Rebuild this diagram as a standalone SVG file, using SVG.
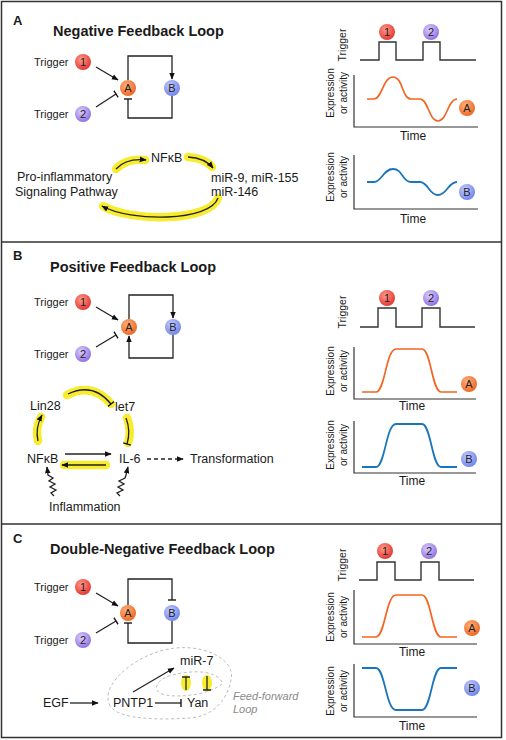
<svg xmlns="http://www.w3.org/2000/svg" width="506" height="740" viewBox="0 0 506 740">
<style>
text{font-family:"Liberation Sans",Arial,sans-serif;fill:#1a1a1a}
.panel{font-size:13px;font-weight:bold}
.title{font-size:14.5px;font-weight:bold}
.trg{font-size:11px}
.bio{font-size:12.5px}
.ax{font-size:10px}
.axt{font-size:10.5px}
.time{font-size:12px;text-anchor:middle}
.cl{font-size:11px;text-anchor:middle;fill:#222}
.ff{font-size:11px;font-style:italic;fill:#8a8a8a}
.ln{fill:none;stroke:#222;stroke-width:1.3}
.wave{fill:none;stroke:#333;stroke-width:1.4}
.axis{fill:none;stroke:#333;stroke-width:1.2}
.cA{fill:none;stroke:#f26522;stroke-width:1.7}
.cB{fill:none;stroke:#1b75bb;stroke-width:1.8}
.hl{fill:none;stroke:#f7ec2e;stroke-width:8.5;stroke-linecap:round}
.dash{fill:none;stroke:#bdbdbd;stroke-width:1;stroke-dasharray:3,2.5}
</style>
<defs>
<radialGradient id="gR" cx="0.4" cy="0.35" r="0.7"><stop offset="0" stop-color="#ff9b8c"/><stop offset="1" stop-color="#e1302a"/></radialGradient>
<radialGradient id="gO" cx="0.4" cy="0.35" r="0.7"><stop offset="0" stop-color="#ffb27c"/><stop offset="1" stop-color="#ec6320"/></radialGradient>
<radialGradient id="gP" cx="0.4" cy="0.35" r="0.7"><stop offset="0" stop-color="#dccfff"/><stop offset="1" stop-color="#8a6ade"/></radialGradient>
<radialGradient id="gB" cx="0.4" cy="0.35" r="0.7"><stop offset="0" stop-color="#c7cfff"/><stop offset="1" stop-color="#6a7eea"/></radialGradient>
<marker id="arr" viewBox="0 0 10 10" refX="9" refY="5" markerWidth="7" markerHeight="7" markerUnits="userSpaceOnUse" orient="auto"><path d="M0,1 L10,5 L0,9 z" fill="#111"/></marker>
<marker id="tee" viewBox="0 0 10 10" refX="5" refY="5" markerWidth="8" markerHeight="8" markerUnits="userSpaceOnUse" orient="auto"><path d="M5,0 V10" stroke="#111" stroke-width="1.7"/></marker>
</defs>

<g id="frame" fill="none" stroke="#333" stroke-width="1.5">
<rect x="1.5" y="1.5" width="500" height="736"/>
<path d="M1.5,242 H501.5 M1.5,524 H501.5"/>
</g>

<!-- ===== Panel A ===== -->
<g id="panelA-labels">
<text class="panel" x="13" y="25">A</text>
<text class="title" x="53" y="36">Negative Feedback Loop</text>
</g>
<g id="A-trigger1"><text class="trg" x="34" y="66">Trigger</text><circle cx="83" cy="62" r="8" fill="url(#gR)"/><text class="cl" x="83" y="66">1</text></g>
<g id="A-trigger2"><text class="trg" x="34" y="118">Trigger</text><circle cx="83" cy="114" r="8" fill="url(#gP)"/><text class="cl" x="83" y="118">2</text></g>
<g id="A-nodeA"><circle cx="128" cy="88" r="8" fill="url(#gO)"/><text class="cl" x="128" y="92">A</text></g>
<g id="A-nodeB"><circle cx="172" cy="88" r="8" fill="url(#gB)"/><text class="cl" x="172" y="92">B</text></g>
<g id="A-connectors">
<path class="ln" d="M96,67 L118,80" marker-end="url(#arr)"/>
<path class="ln" d="M96,107 L116,94" marker-end="url(#tee)"/>
<path class="ln" d="M128,80 V56 H172 V79" marker-end="url(#arr)"/>
<path class="ln" d="M172,96 V118 H128 V99" marker-end="url(#tee)"/>
</g>
<g id="A-pathway-highlights">
<path class="hl" d="M116,169 Q126,158 145,160"/>
<path class="hl" d="M188,157 Q205,158 212,167"/>
<path class="hl" d="M218,198 C210,222 130,222 103,206"/>
</g>
<g id="A-pathway-connectors">
<path class="ln" d="M116,169 Q126,158 146,160" marker-end="url(#arr)"/>
<path class="ln" d="M188,157 Q205,158 213,168" marker-end="url(#arr)"/>
<path class="ln" d="M218,198 C210,222 130,222 102,206" marker-end="url(#arr)"/>
</g>
<g id="A-nfkb"><text class="bio" x="151" y="162">NFκB</text></g>
<g id="A-pathway"><text class="bio" x="17" y="181">Pro-inflammatory</text><text class="bio" x="15" y="196">Signaling Pathway</text></g>
<g id="A-mirs"><text class="bio" x="211" y="182">miR-9, miR-155</text><text class="bio" x="211" y="196">miR-146</text></g>

<g id="A-chart-trigger">
<text class="axt" transform="translate(346,45) rotate(-90)" text-anchor="middle">Trigger</text>
<path class="wave" d="M360,60 H379 V42 H396 V60 H423 V42 H440 V60 H476"/>
<circle cx="387" cy="32" r="8" fill="url(#gR)"/><text class="cl" x="387" y="36">1</text>
<circle cx="431" cy="32" r="8" fill="url(#gP)"/><text class="cl" x="431" y="36">2</text>
</g>
<g id="A-chart-A">
<text class="ax" transform="translate(334,93) rotate(-90)" text-anchor="middle">Expression</text>
<text class="ax" transform="translate(347,93) rotate(-90)" text-anchor="middle">or activity</text>
<path class="axis" d="M354,75 V127 H478"/>
<path class="cA" d="M367,99 H374 C382,99 383,77 393,77 C403,77 402,99 411,99 H420 C428,99 429,121 438,121 C447,121 448,99 457,99"/>
<circle cx="467" cy="108" r="8" fill="url(#gO)"/><text class="cl" x="467" y="112">A</text>
<text class="time" x="413" y="140">Time</text>
</g>
<g id="A-chart-B">
<text class="ax" transform="translate(334,177) rotate(-90)" text-anchor="middle">Expression</text>
<text class="ax" transform="translate(347,177) rotate(-90)" text-anchor="middle">or activity</text>
<path class="axis" d="M354,155 V209 H478"/>
<path class="cB" d="M367,182 H374 C382,182 383,169 393,169 C403,169 402,182 411,182 H420 C428,182 429,195 438,195 C447,195 448,182 457,182"/>
<circle cx="467" cy="192" r="8" fill="url(#gB)"/><text class="cl" x="467" y="196">B</text>
<text class="time" x="413" y="223">Time</text>
</g>

<!-- ===== Panel B ===== -->
<g id="panelB-labels">
<text class="panel" x="13" y="260">B</text>
<text class="title" x="50" y="272">Positive Feedback Loop</text>
</g>
<g id="B-trigger1"><text class="trg" x="34" y="306">Trigger</text><circle cx="83" cy="302" r="8" fill="url(#gR)"/><text class="cl" x="83" y="306">1</text></g>
<g id="B-trigger2"><text class="trg" x="34" y="358">Trigger</text><circle cx="83" cy="354" r="8" fill="url(#gP)"/><text class="cl" x="83" y="358">2</text></g>
<g id="B-nodeA"><circle cx="129" cy="327" r="8" fill="url(#gO)"/><text class="cl" x="129" y="331">A</text></g>
<g id="B-nodeB"><circle cx="173" cy="327" r="8" fill="url(#gB)"/><text class="cl" x="173" y="331">B</text></g>
<g id="B-connectors">
<path class="ln" d="M96,307 L118,320" marker-end="url(#arr)"/>
<path class="ln" d="M96,347 L116,335" marker-end="url(#tee)"/>
<path class="ln" d="M129,319 V295 H173 V318" marker-end="url(#arr)"/>
<path class="ln" d="M173,335 V358 H129 V336" marker-end="url(#arr)"/>
</g>
<g id="B-network-highlights">
<path class="hl" d="M67,395 Q92,382 111,404"/>
<path class="hl" d="M127,418 Q132,431 128,443"/>
<path class="hl" d="M38,441 Q35,428 41,417"/>
<path class="hl" d="M106,465 H64"/>
</g>
<g id="B-network-connectors">
<path class="ln" d="M68,394 Q93,382 111,404" marker-end="url(#tee)"/>
<path class="ln" d="M126,418 Q131,431 127,444" marker-end="url(#tee)"/>
<path class="ln" d="M38,441 Q35,428 42,415" marker-end="url(#arr)"/>
<path class="ln" d="M65,454 H111" marker-end="url(#arr)"/>
<path class="ln" d="M106,465 H62" marker-end="url(#arr)"/>
<path class="ln" d="M147,459 H183" stroke-dasharray="4,3" marker-end="url(#arr)"/>
<path class="ln" stroke-width="1" d="M54,496 L51,493 L56,490 L50,487 L55,484 L49,481 L53,478 L48,475 L47,467" marker-end="url(#arr)"/>
<path class="ln" stroke-width="1" d="M120,496 L117,493 L123,490 L118,487 L124,484 L119,481 L125,478 L126,475 L128,467" marker-end="url(#arr)"/>
</g>
<g id="B-lin28"><text class="bio" x="30" y="410">Lin28</text></g>
<g id="B-let7"><text class="bio" x="115" y="411">let7</text></g>
<g id="B-nfkb"><text class="bio" x="27" y="463">NFκB</text></g>
<g id="B-il6"><text class="bio" x="119" y="463">IL-6</text></g>
<g id="B-transformation"><text class="bio" x="190" y="463">Transformation</text></g>
<g id="B-inflammation"><text class="bio" x="49" y="511">Inflammation</text></g>

<g id="B-chart-trigger">
<text class="axt" transform="translate(346,312) rotate(-90)" text-anchor="middle">Trigger</text>
<path class="wave" d="M360,327 H378 V308 H396 V327 H422 V308 H440 V327 H475"/>
<circle cx="387" cy="298" r="8" fill="url(#gR)"/><text class="cl" x="387" y="302">1</text>
<circle cx="431" cy="298" r="8" fill="url(#gP)"/><text class="cl" x="431" y="302">2</text>
</g>
<g id="B-chart-A">
<text class="ax" transform="translate(334,371) rotate(-90)" text-anchor="middle">Expression</text>
<text class="ax" transform="translate(347,371) rotate(-90)" text-anchor="middle">or activity</text>
<path class="axis" d="M354,347 V399 H476"/>
<path class="cA" d="M362,392 H376 C385,392 386,349 396,349 H422 C431,349 432,392 441,392 H457"/>
<circle cx="469" cy="384" r="8" fill="url(#gO)"/><text class="cl" x="469" y="388">A</text>
<text class="time" x="412" y="410">Time</text>
</g>
<g id="B-chart-B">
<text class="ax" transform="translate(334,445) rotate(-90)" text-anchor="middle">Expression</text>
<text class="ax" transform="translate(347,445) rotate(-90)" text-anchor="middle">or activity</text>
<path class="axis" d="M354,421 V473 H476"/>
<path class="cB" d="M362,467 H376 C385,467 386,424 396,424 H422 C431,424 432,467 441,467 H457"/>
<circle cx="469" cy="459" r="8" fill="url(#gB)"/><text class="cl" x="469" y="463">B</text>
<text class="time" x="412" y="485">Time</text>
</g>

<!-- ===== Panel C ===== -->
<g id="panelC-labels">
<text class="panel" x="13" y="543">C</text>
<text class="title" x="50" y="554">Double-Negative Feedback Loop</text>
</g>
<g id="C-trigger1"><text class="trg" x="34" y="591">Trigger</text><circle cx="83" cy="587" r="8" fill="url(#gR)"/><text class="cl" x="83" y="591">1</text></g>
<g id="C-trigger2"><text class="trg" x="34" y="644">Trigger</text><circle cx="83" cy="640" r="8" fill="url(#gP)"/><text class="cl" x="83" y="644">2</text></g>
<g id="C-nodeA"><circle cx="128" cy="613" r="8" fill="url(#gO)"/><text class="cl" x="128" y="617">A</text></g>
<g id="C-nodeB"><circle cx="172" cy="613" r="8" fill="url(#gB)"/><text class="cl" x="172" y="617">B</text></g>
<g id="C-connectors">
<path class="ln" d="M96,593 L118,606" marker-end="url(#arr)"/>
<path class="ln" d="M96,633 L116,621" marker-end="url(#tee)"/>
<path class="ln" d="M128,605 V579 H172 V600" marker-end="url(#tee)"/>
<path class="ln" d="M172,621 V643 H128 V623" marker-end="url(#tee)"/>
</g>
<g id="C-feedforward-loop">
<path class="dash" d="M110,706 C98,684 140,651 176,648 C206,645 236,660 231,680 C227,700 214,716 190,718 C160,720 120,720 110,706 Z"/>
<path class="dash" d="M222,682 C214,668 186,671 169,676 C154,681 152,693 166,695 C182,698 210,694 222,684"/>
</g>
<g id="C-highlights">
<ellipse cx="186" cy="683" rx="5" ry="8" fill="#f7ec2e"/>
<ellipse cx="207" cy="683" rx="5" ry="8" fill="#f7ec2e"/>
</g>
<g id="C-network-connectors">
<path class="ln" d="M70,703 H98" marker-end="url(#arr)"/>
<path class="ln" d="M133,692 L174,668" marker-end="url(#arr)"/>
<path class="ln" d="M155,703 H181" marker-end="url(#tee)"/>
<path class="ln" d="M186,690 V677" marker-end="url(#tee)"/>
<path class="ln" d="M207,676 V690" marker-end="url(#tee)"/>
</g>
<g id="C-mir7"><text class="bio" x="180" y="665">miR-7</text></g>
<g id="C-egf"><text class="bio" x="43" y="707">EGF</text></g>
<g id="C-pntp1"><text class="bio" x="113" y="707">PNTP1</text></g>
<g id="C-yan"><text class="bio" x="187" y="707">Yan</text></g>
<g id="C-ff-label"><text class="ff" x="233" y="700">Feed-forward</text><text class="ff" x="233" y="713">Loop</text></g>

<g id="C-chart-trigger">
<text class="axt" transform="translate(346,565) rotate(-90)" text-anchor="middle">Trigger</text>
<path class="wave" d="M359,580 H377 V562 H395 V580 H421 V562 H439 V580 H474"/>
<circle cx="385" cy="551" r="8" fill="url(#gR)"/><text class="cl" x="385" y="555">1</text>
<circle cx="429" cy="551" r="8" fill="url(#gP)"/><text class="cl" x="429" y="555">2</text>
</g>
<g id="C-chart-A">
<text class="ax" transform="translate(334,617) rotate(-90)" text-anchor="middle">Expression</text>
<text class="ax" transform="translate(347,617) rotate(-90)" text-anchor="middle">or activity</text>
<path class="axis" d="M354,590 V644 H477"/>
<path class="cA" d="M362,637 H376 C385,637 386,595 396,595 H422 C431,595 432,637 441,637 H457"/>
<circle cx="472" cy="628" r="8" fill="url(#gO)"/><text class="cl" x="472" y="632">A</text>
<text class="time" x="412" y="656">Time</text>
</g>
<g id="C-chart-B">
<text class="ax" transform="translate(334,691) rotate(-90)" text-anchor="middle">Expression</text>
<text class="ax" transform="translate(347,691) rotate(-90)" text-anchor="middle">or activity</text>
<path class="axis" d="M354,664 V717 H477"/>
<path class="cB" d="M362,668 H376 C385,668 386,710 396,710 H422 C431,710 432,668 441,668 H457"/>
<circle cx="472" cy="688" r="8" fill="url(#gB)"/><text class="cl" x="472" y="692">B</text>
<text class="time" x="412" y="730">Time</text>
</g>
</svg>
